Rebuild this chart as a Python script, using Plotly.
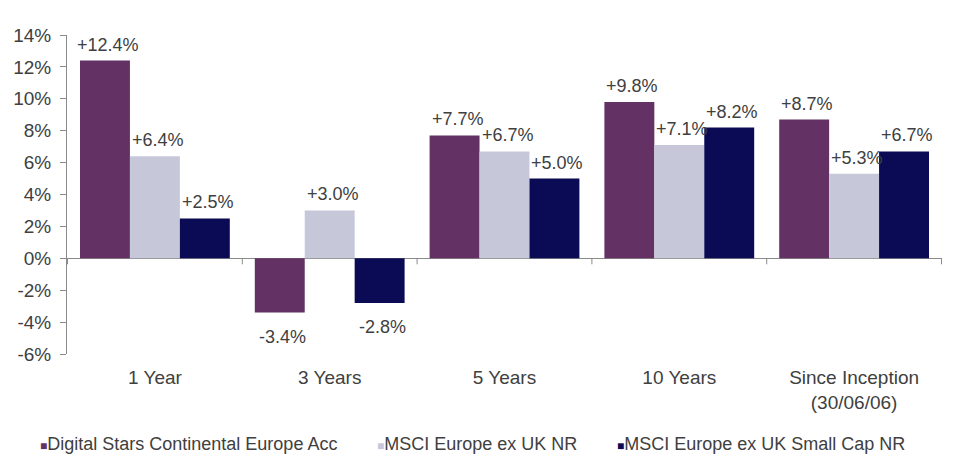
import plotly.graph_objects as go

categories = ["1 Year", "3 Years", "5 Years", "10 Years", "Since Inception<br>(30/06/06)"]
fund = [12.4, -3.4, 7.7, 9.8, 8.7]
msci = [6.4, 3.0, 6.7, 7.1, 5.3]
small_cap = [2.5, -2.8, 5.0, 8.2, 6.7]
names = ["Digital Stars Continental Europe Acc", "MSCI Europe ex UK NR", "MSCI Europe ex UK Small Cap NR"]
colors = ["#633163", "#C6C8DA", "#0B0B55"]
tick_vals = [-6, -4, -2, 0, 2, 4, 6, 8, 10, 12, 14]
tick_text = [f"{v}%" for v in tick_vals]

TXT = "#404040"
AX = "#8a8a8a"
OFF = 8  # page body margin
W, H = 964 - OFF, 468 - OFF
L, R, T, B = 67 - OFF, 22, 35 - OFF, 114
PW = W - L - R
PH = H - T - B


def lab(v):
    return f"+{v:.1f}%" if v >= 0 else f"{v:.1f}%"


fig = go.Figure()
series = [fund, msci, small_cap]
for name, vals, col in zip(names, series, colors):
    fig.add_trace(go.Bar(x=categories, y=vals, name=name, marker_color=col,
                         marker_line_width=0, showlegend=False))

bargap = 0.143
bar_w = PW / len(categories) * (1 - bargap) / len(series)
annotations = []
for i, vals in enumerate(series):
    off = (i - 1) * bar_w
    for c, v in zip(categories, vals):
        annotations.append(dict(
            x=c, y=v, xref="x", yref="y", text=lab(v), showarrow=False,
            xshift=off + 3, yshift=4 if v >= 0 else -12,
            yanchor="bottom" if v >= 0 else "top",
            font=dict(size=18, color=TXT)))

# legend built from annotations (small square markers); positions in page px
leg_px = [38, 375, 615]
for name, col, px in zip(names, colors, leg_px):
    annotations.append(dict(
        x=(px - OFF - L) / PW, y=(H - B - (444 - OFF)) / PH, xref="paper", yref="paper",
        xanchor="left", yanchor="middle", showarrow=False,
        text=f"<span style='color:{col};font-size:12px'>■</span>{name}",
        font=dict(size=18, color=TXT)))

shapes = []
for k in range(len(categories) + 1):
    shapes.append(dict(type="line", xref="x", yref="y", x0=k - 0.5, x1=k - 0.5,
                       ysizemode="pixel", yanchor=0, y0=0, y1=-6,
                       line=dict(color=AX, width=1)))

fig.update_layout(
    width=W, height=H,
    margin=dict(l=L, r=R, t=T, b=B),
    plot_bgcolor="white", paper_bgcolor="white",
    font=dict(family="Liberation Sans, Arial, sans-serif", color=TXT),
    barmode="group", bargap=bargap, bargroupgap=0,
    showlegend=False,
    annotations=annotations,
    shapes=shapes,
    xaxis=dict(showline=False, ticks="", tickfont=dict(size=19, color=TXT),
               showgrid=False, ticklabelstandoff=10, automargin=False),
    yaxis=dict(range=[-6, 14], tickvals=tick_vals, ticktext=tick_text,
               showline=True, linecolor=AX, linewidth=1,
               ticks="outside", ticklen=6, tickcolor=AX, ticklabelstandoff=5,
               showgrid=False, zeroline=True, zerolinecolor=AX, zerolinewidth=1,
               tickfont=dict(size=19, color=TXT), automargin=False),
)

fig.write_html("out.html")
